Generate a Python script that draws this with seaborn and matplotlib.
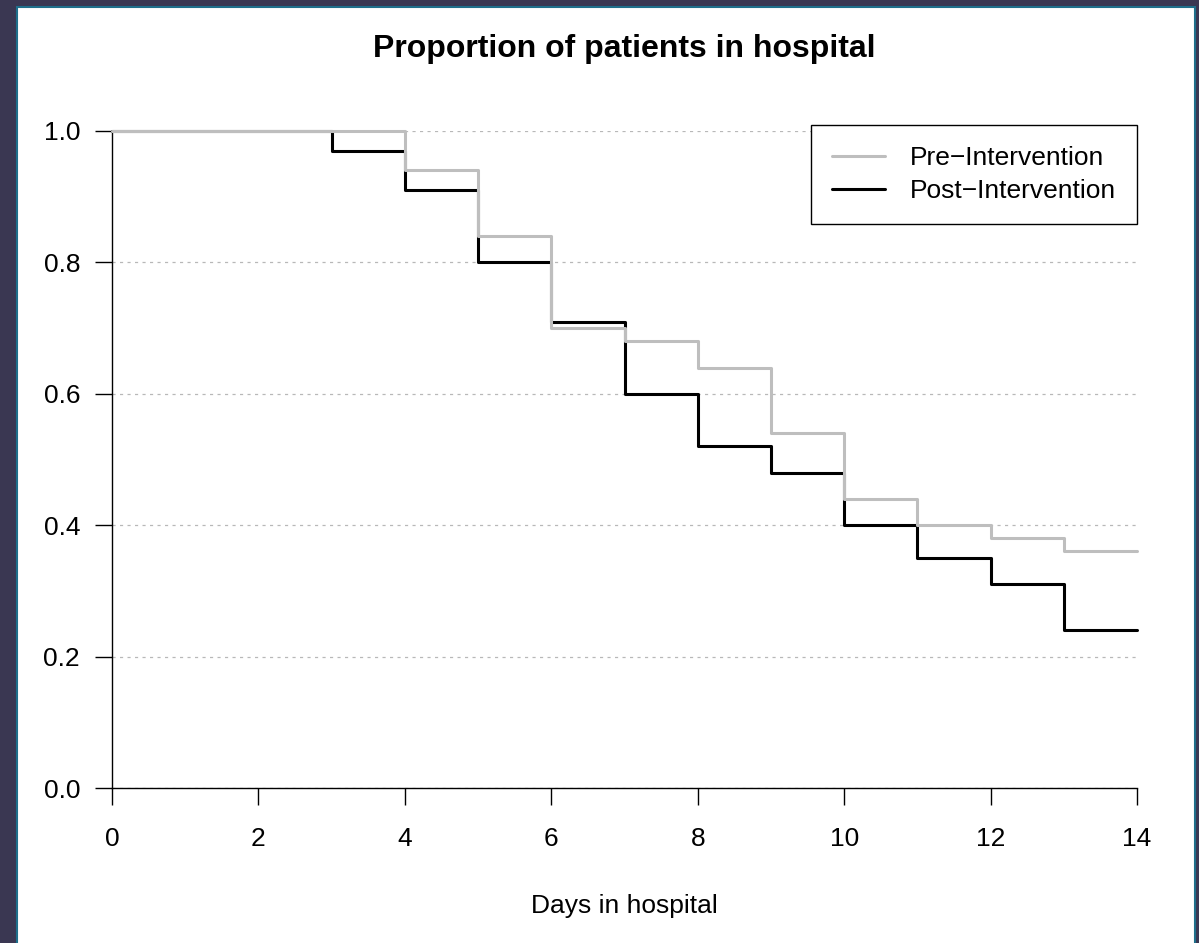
import matplotlib
matplotlib.use('Agg')
import matplotlib.pyplot as plt
from matplotlib.patches import Rectangle
import seaborn as sns
import pandas as pd

days = [0, 1, 2, 3, 4, 5, 6, 7, 8, 9, 10, 11, 12, 13, 14]
pre = [1.0, 1.0, 1.0, 1.0, 0.94, 0.84, 0.70, 0.68, 0.64, 0.54, 0.44, 0.40, 0.38, 0.36, 0.36]
post = [1.0, 1.0, 1.0, 0.97, 0.91, 0.80, 0.71, 0.60, 0.52, 0.48, 0.40, 0.35, 0.31, 0.24, 0.24]

pre_lab = 'Pre\u2212Intervention'
post_lab = 'Post\u2212Intervention'

df = pd.concat([
    pd.DataFrame({'day': days, 'prop': post, 'group': post_lab}),
    pd.DataFrame({'day': days, 'prop': pre, 'group': pre_lab}),
]).reset_index(drop=True)

sns.set_style('ticks')
plt.rcParams['font.family'] = ['Liberation Sans', 'DejaVu Sans']
plt.rcParams['text.color'] = 'black'
plt.rcParams['axes.labelcolor'] = 'black'

fig = plt.figure(figsize=(11.99, 9.43), dpi=100, facecolor='#3a3752')
# white panel with blue edge, behind the axes
fig.patches.append(Rectangle((17 / 1199, -0.01), (1195 - 17) / 1199, (943 - 7) / 943 + 0.01,
                             transform=fig.transFigure, facecolor='white',
                             edgecolor='#1f6f8b', linewidth=1.5, zorder=-10))

ax = fig.add_axes([112 / 1199, 1 - 788 / 943, (1137 - 112) / 1199, (788 - 131) / 943])
ax.set_zorder(1)
ax.set_facecolor('white')

# post first so pre is drawn on top
sns.lineplot(data=df, x='day', y='prop', hue='group',
             hue_order=[post_lab, pre_lab],
             palette={post_lab: 'black', pre_lab: '#bebebe'},
             drawstyle='steps-post', linewidth=2.2, ax=ax, clip_on=False,
             zorder=3)

ax.set_xlim(0, 14)
ax.set_ylim(0, 1)
ax.set_xticks(range(0, 15, 2))
ax.set_yticks([0.0, 0.2, 0.4, 0.6, 0.8, 1.0])
ax.set_yticklabels(['0.0', '0.2', '0.4', '0.6', '0.8', '1.0'])
ax.tick_params(axis='both', length=12, width=1, color='black', labelsize=19,
               labelcolor='black')
ax.tick_params(axis='y', pad=11)
ax.tick_params(axis='x', pad=16)
ax.grid(axis='y', color='#b8b8b8', linestyle=(0, (2.5, 3.5)), linewidth=0.9)
ax.set_axisbelow(True)
for s in ['top', 'right']:
    ax.spines[s].set_visible(False)
for s in ['left', 'bottom']:
    ax.spines[s].set_linewidth(1.0)
    ax.spines[s].set_color('black')

ax.set_xlabel('Days in hospital', fontsize=19, labelpad=31)
ax.set_ylabel('')
ax.set_title('Proportion of patients in hospital', fontsize=23,
             fontweight='bold', pad=53, color='black')

handles, labels = ax.get_legend_handles_labels()
order = [labels.index(pre_lab), labels.index(post_lab)]
leg = ax.legend([handles[i] for i in order], [labels[i] for i in order],
                loc='upper right', bbox_to_anchor=(1.0, 1.009),
                borderaxespad=0, fontsize=19, fancybox=False, framealpha=1,
                edgecolor='black', handlelength=2.0, handletextpad=0.95,
                labelspacing=0.33, borderpad=0.8)
leg.get_frame().set_linewidth(1.0)
for line in leg.get_lines():
    line.set_linewidth(2.2)

fig.savefig('out.png', dpi=100, facecolor=fig.get_facecolor())
